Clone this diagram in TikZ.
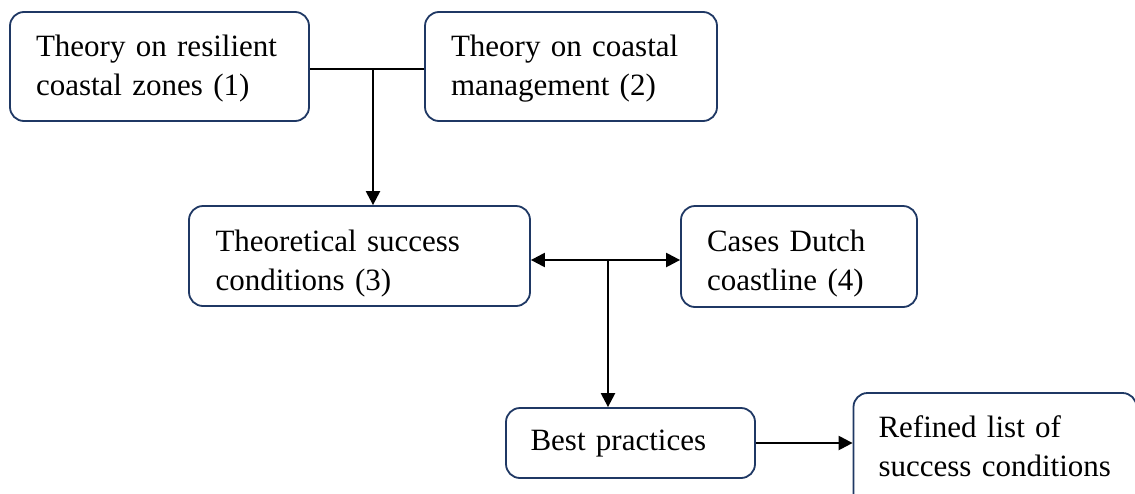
\documentclass[tikz,border=0pt]{standalone}
\usepackage{fontspec}
\setmainfont{Liberation Serif}
\usetikzlibrary{arrows.meta}
\definecolor{boxblue}{HTML}{1F3864}
\tikzset{
  box/.style={draw=boxblue, line width=1.8pt, rounded corners=14pt, fill=white,
    align=left, inner xsep=26pt, inner ysep=0pt, text height=21pt,
    font=\fontsize{31}{39}\selectfont},
  conn/.style={line width=2.3pt, draw=black},
  tip/.style={-{Triangle[length=14pt,width=14pt]}},
  dtip/.style={{Triangle[length=14pt,width=14pt]}-{Triangle[length=14pt,width=14pt]}}
}
\begin{document}
\begin{tikzpicture}[x=1pt,y=-1pt]
\useasboundingbox (0,0) rectangle (1135,493);
\clip (0,0) rectangle (1135,493);
\node[box, minimum width=299pt, minimum height=109pt, text width=247pt, text depth=42pt] (b1) at (159.5,66.5)
  {Theory on resilient\\coastal zones (1)};
\node[box, minimum width=292pt, minimum height=109pt, text width=240pt, text depth=42pt] (b2) at (571,66.5)
  {Theory on coastal\\management (2)};
\node[box, minimum width=341pt, minimum height=100pt, text width=288pt, text depth=31pt] (b3) at (359.5,256)
  {Theoretical success\\conditions (3)};
\node[box, minimum width=236pt, minimum height=101pt, text width=184pt, text depth=32pt] (b4) at (799,256.5)
  {Cases Dutch\\coastline (4)};
\node[box, minimum width=249pt, minimum height=70pt, text width=200pt, inner xsep=24pt, text depth=7pt] (b5) at (630.5,443)
  {Best practices};
\node[box, minimum width=283pt, minimum height=128pt, text width=233pt, inner xsep=25pt, text depth=61pt] (b6) at (995,457)
  {Refined list of\\success conditions};
\coordinate (j1) at (373,69);
\coordinate (j2) at (608,260);
\draw[conn] (b1.east |- j1) -- (b2.west |- j1);
\draw[conn, tip] (j1) -- (b3.north -| j1);
\draw[conn, dtip] (b3.east |- j2) -- (b4.west |- j2);
\draw[conn, tip] (j2) -- (b5.north -| j2);
\draw[conn, tip] (b5.east) -- (b6.west |- b5.east);
\end{tikzpicture}
\end{document}
